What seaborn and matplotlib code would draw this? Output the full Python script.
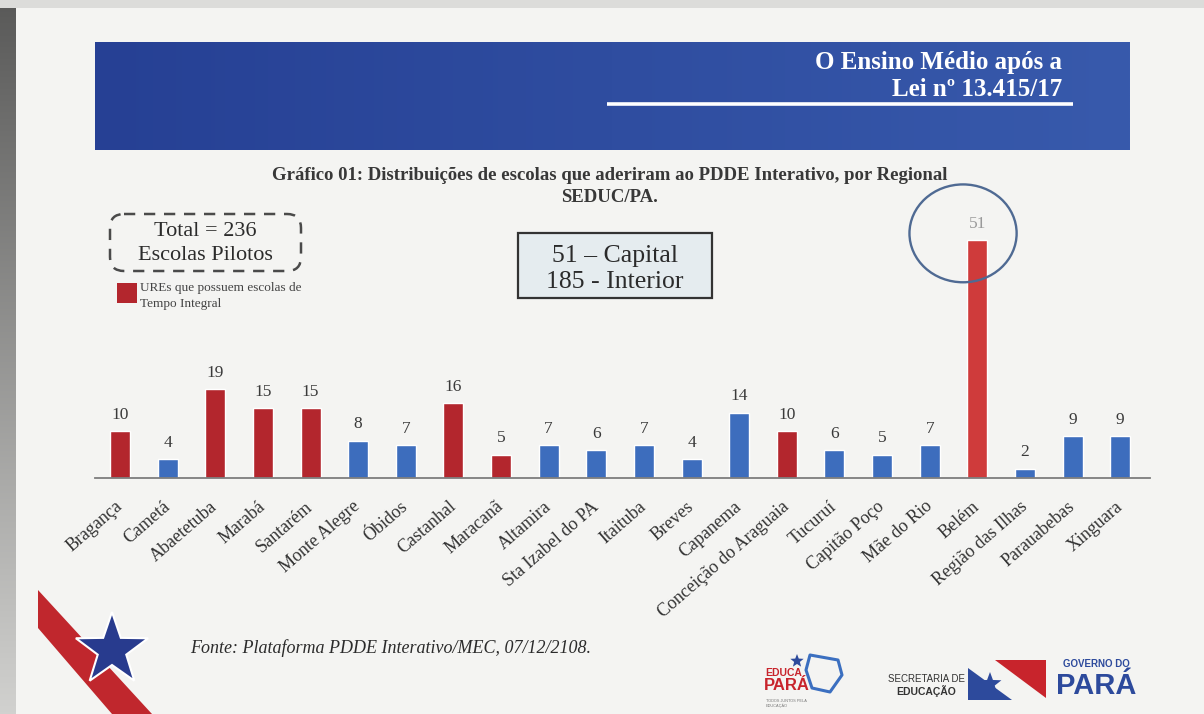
import numpy as np
import pandas as pd
import matplotlib
matplotlib.use("Agg")
import matplotlib.pyplot as plt
from matplotlib.patches import Rectangle, FancyBboxPatch, Ellipse, Polygon
import seaborn as sns

# ---- data -------------------------------------------------------------
regionais = ["Bragança", "Cametá", "Abaetetuba", "Marabá", "Santarém",
             "Monte Alegre", "Óbidos", "Castanhal", "Maracanã", "Altamira",
             "Sta Izabel do PA", "Itaituba", "Breves", "Capanema",
             "Conceição do Araguaia", "Tucuruí", "Capitão Poço", "Mãe do Rio",
             "Belém", "Região das Ilhas", "Parauabebas", "Xinguara"]
escolas = [10, 4, 19, 15, 15, 8, 7, 16, 5, 7, 6, 7, 4, 14, 10, 6, 5, 7,
           51, 2, 9, 9]
tempo_integral = ["Bragança", "Abaetetuba", "Marabá", "Santarém", "Castanhal",
                  "Maracanã", "Conceição do Araguaia", "Belém"]
capital = "Belém"

titulo = ["O Ensino Médio após a", "Lei nº 13.415/17"]
subtitulo = ["Gráfico 01: Distribuições de escolas que aderiram ao PDDE Interativo, por Regional",
             "SEDUC/PA."]
total_txt = ["Total = 236", "Escolas Pilotos"]
resumo_txt = ["51 – Capital", "185 - Interior"]
legenda_txt = ["UREs que possuem escolas de", "Tempo Integral"]
fonte_txt = "Fonte: Plataforma PDDE Interativo/MEC, 07/12/2108."

df = pd.DataFrame({
    "regional": regionais,
    "escolas": escolas,
    "grupo": ["integral" if r in tempo_integral else "regular" for r in regionais],
})

# ---- style ------------------------------------------------------------
sns.set_theme(style="white")
SERIF = ["Liberation Serif", "DejaVu Serif"]
SANS = ["Liberation Sans", "DejaVu Sans"]
plt.rcParams["font.family"] = SERIF

RED = "#b3262d"
RED_LIGHT = "#cf3b3b"
BLUE = "#3d6dbd"
BG = "#f4f4f2"
INK = "#2b2b2b"

W, H = 1204, 714
fig = plt.figure(figsize=(W / 100, H / 100), dpi=100)
fig.patch.set_facecolor(BG)

# ---- decoration layer in pixel coordinates ----------------------------
deco = fig.add_axes([0, 0, 1, 1], zorder=0)
deco.set_xlim(0, W)
deco.set_ylim(H, 0)
deco.axis("off")
deco.set_facecolor(BG)

# darker paper edge on the left side
edge = np.linspace(0.35, 0.82, 256)[:, None]
edge_rgb = np.dstack([edge, edge, edge * 0.99])
deco.imshow(edge_rgb, extent=[0, 16, H, 0], aspect="auto", zorder=1)
deco.add_patch(Rectangle((0, 0), W, 8, color="#dcdcda", lw=0, zorder=1))

# blue banner with horizontal shading
g = np.linspace(0, 1, 512)
c0 = np.array([38, 64, 148]) / 255
c1 = np.array([56, 90, 172]) / 255
band = (c0[None, :] * (1 - g[:, None]) + c1[None, :] * g[:, None])[None, :, :]
deco.imshow(band, extent=[95, 1130, 150, 42], aspect="auto", zorder=2)
deco.text(1062, 62, titulo[0], color="white", fontsize=18, fontweight="bold",
          ha="right", va="center", zorder=3)
deco.text(1062, 89, titulo[1], color="white", fontsize=18, fontweight="bold",
          ha="right", va="center", zorder=3)
deco.plot([607, 1073], [104, 104], color="white", lw=2.6, zorder=3,
          solid_capstyle="butt")

# chart caption
deco.text(610, 176, subtitulo[0], fontsize=13.5, fontweight="bold",
          color="#383838", ha="center", va="center")
deco.text(610, 197, subtitulo[1], fontsize=13.5, fontweight="bold",
          color="#383838", ha="center", va="center")

# dashed "total" box
deco.add_patch(FancyBboxPatch((110, 214), 191, 57,
                              boxstyle="round,pad=0,rounding_size=14",
                              fill=False, edgecolor="#4a4a4a", lw=1.8,
                              linestyle=(0, (4.5, 3.5))))
deco.text(205, 231, total_txt[0], fontsize=16, color=INK, ha="center", va="center")
deco.text(205, 256, total_txt[1], fontsize=16, color=INK, ha="center", va="center")

# legend for the red bars
deco.add_patch(Rectangle((117, 283), 20, 20, color=RED, lw=0))
deco.text(140, 288, legenda_txt[0], fontsize=9.5, color="#444444", ha="left", va="center")
deco.text(140, 304, legenda_txt[1], fontsize=9.5, color="#444444", ha="left", va="center")

# capital / interior box
deco.add_patch(Rectangle((518, 233), 194, 65, facecolor="#e5ecef",
                         edgecolor="#333333", lw=1.6))
deco.text(615, 256, resumo_txt[0], fontsize=18.5, color=INK, ha="center", va="center")
deco.text(615, 282, resumo_txt[1], fontsize=18.5, color=INK, ha="center", va="center")

# source note
deco.text(190, 648, fonte_txt, fontsize=13, fontstyle="italic", color=INK,
          ha="left", va="center")


def star(cx, cy, R, r):
    ang = np.pi / 2 + np.arange(10) * np.pi / 5
    rad = np.where(np.arange(10) % 2 == 0, R, r)
    return np.column_stack([cx + rad * np.cos(ang), cy - rad * np.sin(ang)])


# red stripe with blue star (lower left)
deco.add_patch(Polygon([(38, 590), (38, 628), (112, 714), (152, 714)],
                       closed=True, color="#c0272d", lw=0, zorder=2))
deco.add_patch(Polygon(star(112, 650, 38, 15), closed=True, facecolor="#283b8e",
                       edgecolor="white", lw=1.5, zorder=3))

# logos on the right
deco.add_patch(Polygon(star(797, 661, 7, 3), closed=True, color="#2d4a9c", lw=0))
deco.text(765, 673, "EDUCA", fontsize=7.5, fontweight="bold", color="#c8242c",
          family=SANS, ha="left", va="center")
deco.text(764, 686, "PARÁ", fontsize=12, fontweight="bold", color="#c8242c",
          family=SANS, ha="left", va="center")
deco.add_patch(Polygon([(810, 655), (838, 660), (842, 675), (830, 692),
                        (812, 688), (806, 670)], closed=True, fill=False,
                       edgecolor="#3b6fc0", lw=2.2, joinstyle="round"))
deco.text(766, 699, "TODOS JUNTOS PELA\nEDUCAÇÃO", fontsize=2.8, color="#777777",
          family=SANS, ha="left", va="top")
deco.text(926, 679, "SECRETARIA DE", fontsize=7, color="#333333",
          family=SANS, ha="center", va="center")
deco.text(926, 691, "EDUCAÇÃO", fontsize=7.5, fontweight="bold", color="#333333",
          family=SANS, ha="center", va="center")
deco.add_patch(Polygon([(995, 660), (1046, 660), (1046, 698)], closed=True,
                       color="#c8242c", lw=0))
deco.add_patch(Polygon([(968, 668), (968, 700), (1012, 700)], closed=True,
                       color="#2d4a9c", lw=0))
deco.add_patch(Polygon(star(990, 684, 12, 5), closed=True, color="#2d4a9c", lw=0))
deco.text(1096, 664, "GOVERNO DO", fontsize=7, fontweight="bold", color="#2d4a9c",
          family=SANS, ha="center", va="center")
deco.text(1096, 686, "PARÁ", fontsize=21, fontweight="bold", color="#2d4a9c",
          family=SANS, ha="center", va="center")

# ---- bar chart ---------------------------------------------------------
ax_left, ax_right = 95, 1150
base_y, top_y = 478, 178
ax = fig.add_axes([ax_left / W, (H - base_y) / H,
                   (ax_right - ax_left) / W, (base_y - top_y) / H], zorder=1)
ax.patch.set_alpha(0)

sns.barplot(data=df, x="regional", y="escolas", hue="grupo", order=regionais,
            hue_order=["integral", "regular"],
            palette={"integral": RED, "regular": BLUE},
            dodge=False, width=0.42, saturation=1, legend=False, ax=ax)

step = (ax_right - ax_left) / 22.15
ax.set_xlim(-(120 - ax_left) / step, -(120 - ax_left) / step + 22.15)
ax.set_ylim(0, (base_y - top_y) / 4.66)

idx_cap = regionais.index(capital)
for p in ax.patches:
    if abs(p.get_x() + p.get_width() / 2 - idx_cap) < 0.3:
        p.set_facecolor(RED_LIGHT)

for cont in ax.containers:
    labels = ax.bar_label(cont, padding=6, fontsize=12.5, color="#3a3a3a",
                          family=SERIF)
    for bar, t in zip(cont, labels):
        if abs(bar.get_x() + bar.get_width() / 2 - idx_cap) < 0.3:
            t.set_color("#9a9a9a")

# ring highlighting the capital
ax.add_patch(Ellipse((idx_cap - 0.3, 52.5), width=2.25, height=21, fill=False,
                     edgecolor="#4f6a93", lw=1.7, clip_on=False))

ax.set_xticks(range(len(regionais)))
ax.set_xticklabels(regionais, rotation=41, ha="right", va="center",
                   rotation_mode="anchor", fontsize=13, color="#333333")
ax.tick_params(axis="x", length=0, pad=19)
ax.set_xlabel("")
ax.set_ylabel("")
ax.set_yticks([])
for s in ["left", "right", "top"]:
    ax.spines[s].set_visible(False)
ax.spines["bottom"].set_color("#7d7d7d")
ax.spines["bottom"].set_linewidth(1.3)

fig.savefig("out.png", dpi=100, facecolor=fig.get_facecolor())
